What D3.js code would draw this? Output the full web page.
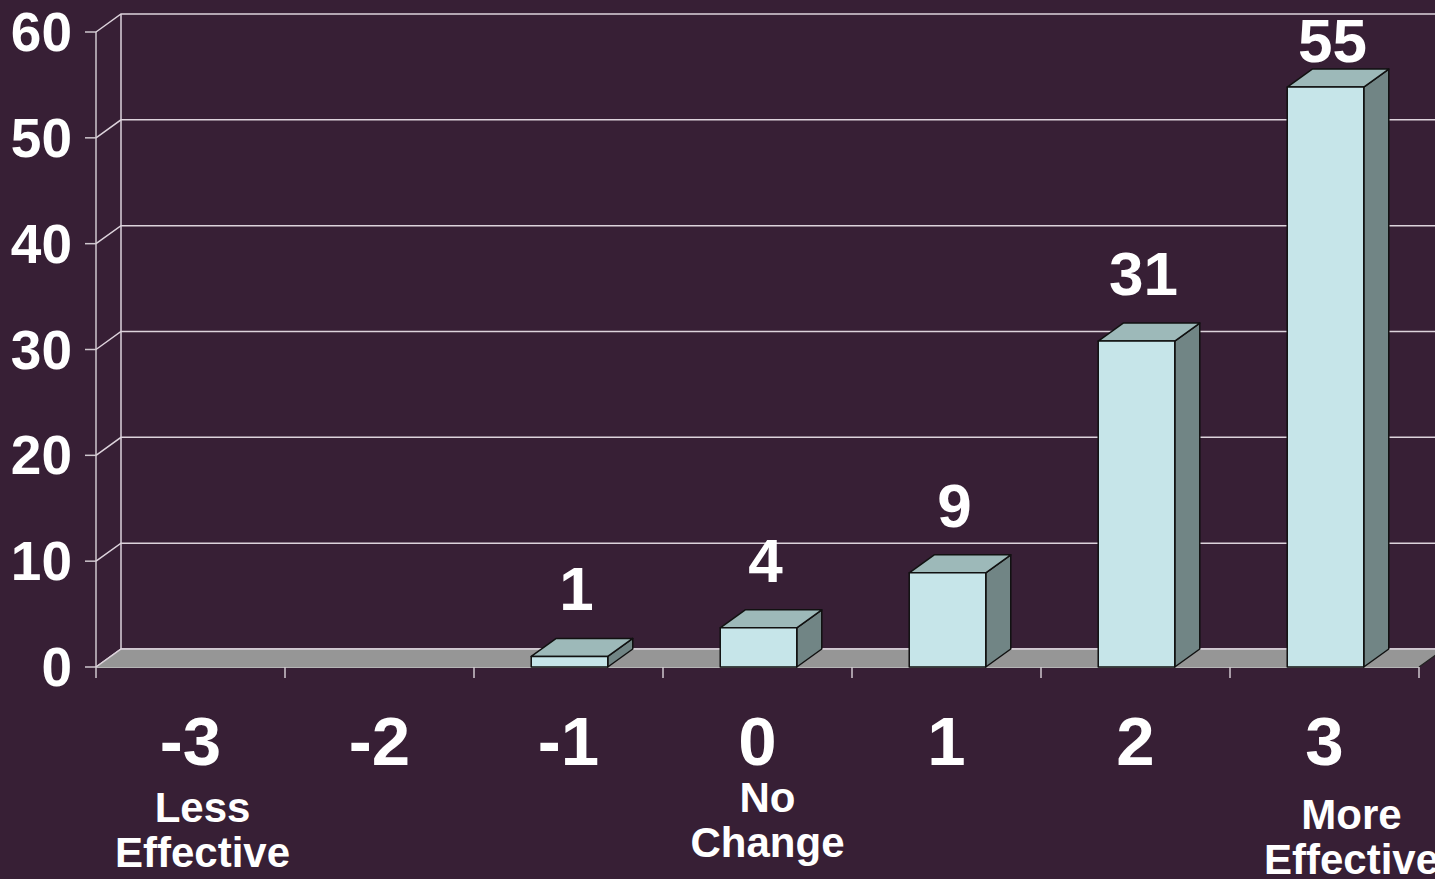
<!DOCTYPE html>
<html><head><meta charset="utf-8">
<script src="https://cdn.jsdelivr.net/npm/d3@7"></script>
<style>
html,body{margin:0;padding:0;background:#371f35;overflow:hidden;}
text{font-family:"Liberation Sans",Arial,sans-serif;font-weight:bold;fill:#ffffff;}
</style></head>
<body>
<svg id="chart" width="1435" height="879"></svg>
<script>
const categories = ["-3","-2","-1","0","1","2","3"];
const values = [0, 0, 1, 3.7, 8.9, 30.8, 54.8];
const valueLabels = ["", "", "1", "4", "9", "31", "55"];
const yTicks = [0, 10, 20, 30, 40, 50, 60];
const subLabels = [["Less","Effective"], [], [], ["No","Change"], [], [], ["More","Effective"]];

const W = 1435, H = 879;
const dx = 25, dy = -18;
const svg = d3.select("#chart");
svg.append("rect").attr("width", W).attr("height", H).attr("fill", "#371f35");

const x = d3.scaleBand().domain(categories).range([96, 1419]).padding(0);
const y = d3.scaleLinear().domain([0, 60]).range([667, 32]);
const x0 = x.range()[0], x1 = x.range()[1];

const grid = "#ddd3dc";
// left wall edges
svg.append("line").attr("x1", x0).attr("x2", x0).attr("y1", y(0)).attr("y2", y(60))
  .attr("stroke", "#cfc7ce").attr("stroke-width", 1.5);
svg.append("line").attr("x1", x0+dx).attr("x2", x0+dx).attr("y1", y(0)+dy).attr("y2", y(60)+dy)
  .attr("stroke", grid).attr("stroke-width", 1.5);
// gridlines on walls
yTicks.forEach(t => {
  svg.append("path")
    .attr("d", `M${x0},${y(t)}L${x0+dx},${y(t)+dy}L${W+10},${y(t)+dy}`)
    .attr("fill", "none").attr("stroke", grid).attr("stroke-width", 1.5);
  svg.append("line").attr("x1", x0-11).attr("x2", x0).attr("y1", y(t)).attr("y2", y(t))
    .attr("stroke", "#cfc7ce").attr("stroke-width", 1.5);
  svg.append("text").attr("x", 72).attr("y", y(t) + 19).attr("text-anchor", "end")
    .attr("font-size", 55).text(t);
});

// floor
svg.append("path")
  .attr("d", `M${x0},${y(0)}L${x0+dx},${y(0)+dy}L${x1+dx},${y(0)+dy}L${x1},${y(0)}Z`)
  .attr("fill", "#969696");
svg.append("line").attr("x1", x0+dx).attr("x2", W+10).attr("y1", y(0)+dy).attr("y2", y(0)+dy)
  .attr("stroke", grid).attr("stroke-width", 1.5);
svg.append("line").attr("x1", x0).attr("x2", x0+dx).attr("y1", y(0)).attr("y2", y(0)+dy)
  .attr("stroke", grid).attr("stroke-width", 1.5);
svg.append("line").attr("x1", x1).attr("x2", x1+dx).attr("y1", y(0)).attr("y2", y(0)+dy)
  .attr("stroke", "#222").attr("stroke-width", 1.2);
svg.append("line").attr("x1", x0).attr("x2", x1).attr("y1", y(0)+0.5).attr("y2", y(0)+0.5)
  .attr("stroke", "#b5b5b5").attr("stroke-width", 1);

// x ticks
const bounds = categories.map(c => x(c)).concat([x1]);
bounds.forEach(b => {
  svg.append("line").attr("x1", b).attr("x2", b).attr("y1", y(0)).attr("y2", y(0)+11)
    .attr("stroke", "#cfc7ce").attr("stroke-width", 1.5);
});

// bars
const bw = x.bandwidth() * 0.405;
categories.forEach((c, i) => {
  const v = values[i];
  if (v <= 0) return;
  const cx = x(c) + x.bandwidth()/2 + 1;
  const bl = cx - bw/2, br = cx + bw/2;
  const yt = y(v), yb = y(0);
  const g = svg.append("g").attr("stroke", "#111").attr("stroke-width", 1.5).attr("stroke-linejoin", "round");
  g.append("path").attr("d", `M${br},${yt}L${br+dx},${yt+dy}L${br+dx},${yb+dy}L${br},${yb}Z`).attr("fill", "#718585");
  g.append("path").attr("d", `M${bl},${yt}L${bl+dx},${yt+dy}L${br+dx},${yt+dy}L${br},${yt}Z`).attr("fill", "#9db9b9");
  g.append("rect").attr("x", bl).attr("y", yt).attr("width", bw).attr("height", yb - yt).attr("fill", "#c6e5e9");
  svg.append("text").attr("x", cx + 7).attr("y", Math.max(62, yt + dy - 28))
    .attr("text-anchor", "middle").attr("font-size", 62).text(valueLabels[i]);
});

// x labels
categories.forEach((c, i) => {
  const cx = x(c) + x.bandwidth()/2;
  svg.append("text").attr("x", cx).attr("y", 765).attr("text-anchor", "middle")
    .attr("font-size", 69).text(c);
});
const subPos = {0: {dx: 12, y: 822}, 3: {dx: 10, y: 812}, 6: {dx: 27, y: 829}};
subLabels.forEach((lines, i) => {
  if (!lines.length) return;
  const cx = x(categories[i]) + x.bandwidth()/2 + subPos[i].dx;
  lines.forEach((l, j) => {
    svg.append("text").attr("x", cx).attr("y", subPos[i].y + j*45).attr("text-anchor", "middle")
      .attr("font-size", 42).text(l);
  });
});
</script>
</body></html>
